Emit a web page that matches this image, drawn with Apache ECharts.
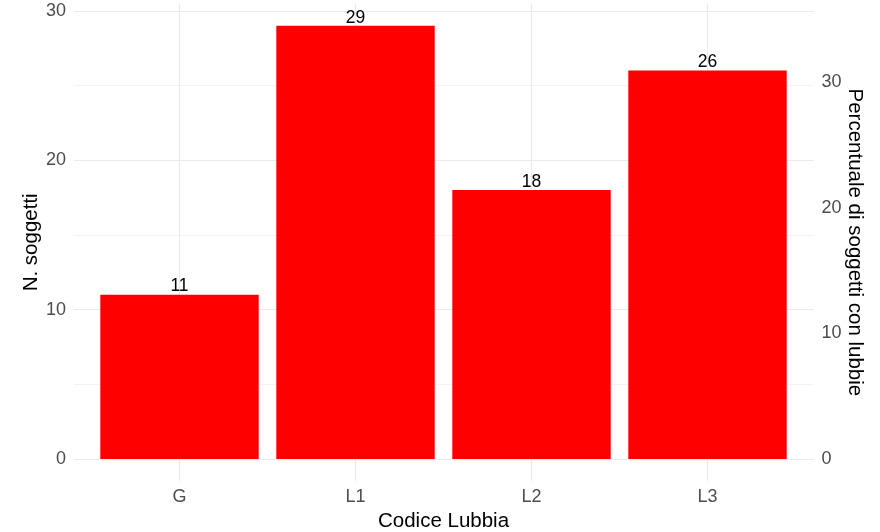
<!DOCTYPE html>
<html>
<head>
<meta charset="utf-8">
<script src="https://cdn.jsdelivr.net/npm/echarts@6/dist/echarts.min.js"></script>
<style>
html,body{margin:0;padding:0;background:#fff;}
#chart{width:880px;height:532px;}
</style>
</head>
<body>
<div id="chart"></div>
<script>
const categories = ['G', 'L1', 'L2', 'L3'];
const counts = [11, 29, 18, 26];
const countTicks = [0, 10, 20, 30];
const percentTicks = [0, 10, 20, 30];
const xTitle = 'Codice Lubbia';
const yTitle = 'N. soggetti';
const y2Title = 'Percentuale di soggetti con lubbie';

const total = counts.reduce((a, b) => a + b, 0);
const cMax = countTicks[countTicks.length - 1];
const dataMax = Math.max(...counts);
const pad = 0.05 * dataMax;           // ggplot-style expansion of the panel
const toPct = v => v / total * 100;

const FONT = 'Liberation Sans';
const axisTextColor = '#4d4d4d';
const gridColor = '#ebebeb';

// pixel geometry
const y0 = 459, pxPerUnit = 14.94;
const topMain = y0 - cMax * pxPerUnit;
const topPanel = topMain - (dataMax + pad - cMax) * pxPerUnit;
const bottomPanel = y0 + pad * pxPerUnit;

const option = {
  animation: false,
  backgroundColor: '#ffffff',
  grid: [
    { left: 179.5, right: 880 - 707.5, top: topPanel, height: bottomPanel - topPanel,
      outerBoundsMode: 'none', containLabel: false },
    { left: 74, right: 880 - 813.5, top: topMain, height: y0 - topMain,
      outerBoundsMode: 'none', containLabel: false }
  ],
  xAxis: [
    {
      type: 'category', gridIndex: 0, data: categories, boundaryGap: false,
      axisLine: { show: false }, axisTick: { show: false },
      axisLabel: { margin: 7, color: axisTextColor, fontSize: 18, fontFamily: FONT },
      splitLine: { show: true, lineStyle: { color: gridColor, width: 1.2 } },
      name: xTitle, nameLocation: 'middle', nameGap: 30,
      nameTextStyle: { color: '#000', fontSize: 20.5, fontFamily: FONT }
    },
    {
      type: 'value', gridIndex: 1, min: 0, max: 1, show: false
    }
  ],
  yAxis: [
    {
      type: 'value', gridIndex: 0, position: 'left', min: -pad, max: dataMax + pad,
      axisLine: { show: false }, axisTick: { show: false }, axisLabel: { show: false },
      splitLine: { show: false },
      name: yTitle, nameLocation: 'middle', nameGap: 138,
      nameTextStyle: { color: '#000', fontSize: 20.5, fontFamily: FONT }
    },
    {
      type: 'value', gridIndex: 0, position: 'right', min: toPct(-pad), max: toPct(dataMax + pad),
      axisLine: { show: false }, axisTick: { show: false }, axisLabel: { show: false },
      splitLine: { show: false },
      name: y2Title, nameLocation: 'middle', nameGap: 137, nameRotate: -90,
      nameTextStyle: { color: '#000', fontSize: 20.5, fontFamily: FONT }
    },
    {
      type: 'value', gridIndex: 1, position: 'left',
      min: countTicks[0], max: cMax, interval: countTicks[1] - countTicks[0],
      axisLine: { show: false }, axisTick: { show: false },
      axisLabel: { margin: 8, color: axisTextColor, fontSize: 18, fontFamily: FONT },
      splitLine: { show: true, lineStyle: { color: gridColor, width: 1.2 } },
      minorTick: { show: false, splitNumber: 2 },
      minorSplitLine: { show: true, lineStyle: { color: gridColor, width: 0.6 } }
    },
    {
      type: 'value', gridIndex: 1, position: 'right',
      min: percentTicks[0], max: toPct(cMax), interval: percentTicks[1] - percentTicks[0],
      axisLine: { show: false }, axisTick: { show: false },
      axisLabel: { margin: 8, color: axisTextColor, fontSize: 18, fontFamily: FONT, showMaxLabel: false },
      splitLine: { show: false }
    }
  ],
  series: [
    {
      type: 'bar', xAxisIndex: 0, yAxisIndex: 0, data: counts,
      barWidth: '90%', clip: false,
      itemStyle: { color: '#ff0000' },
      label: { show: true, position: 'top', distance: -1, color: '#000', fontSize: 17.5, fontFamily: FONT }
    }
  ]
};

const chart = echarts.init(document.getElementById('chart'), null, { renderer: 'canvas' });
chart.setOption(option);
</script>
</body>
</html>
